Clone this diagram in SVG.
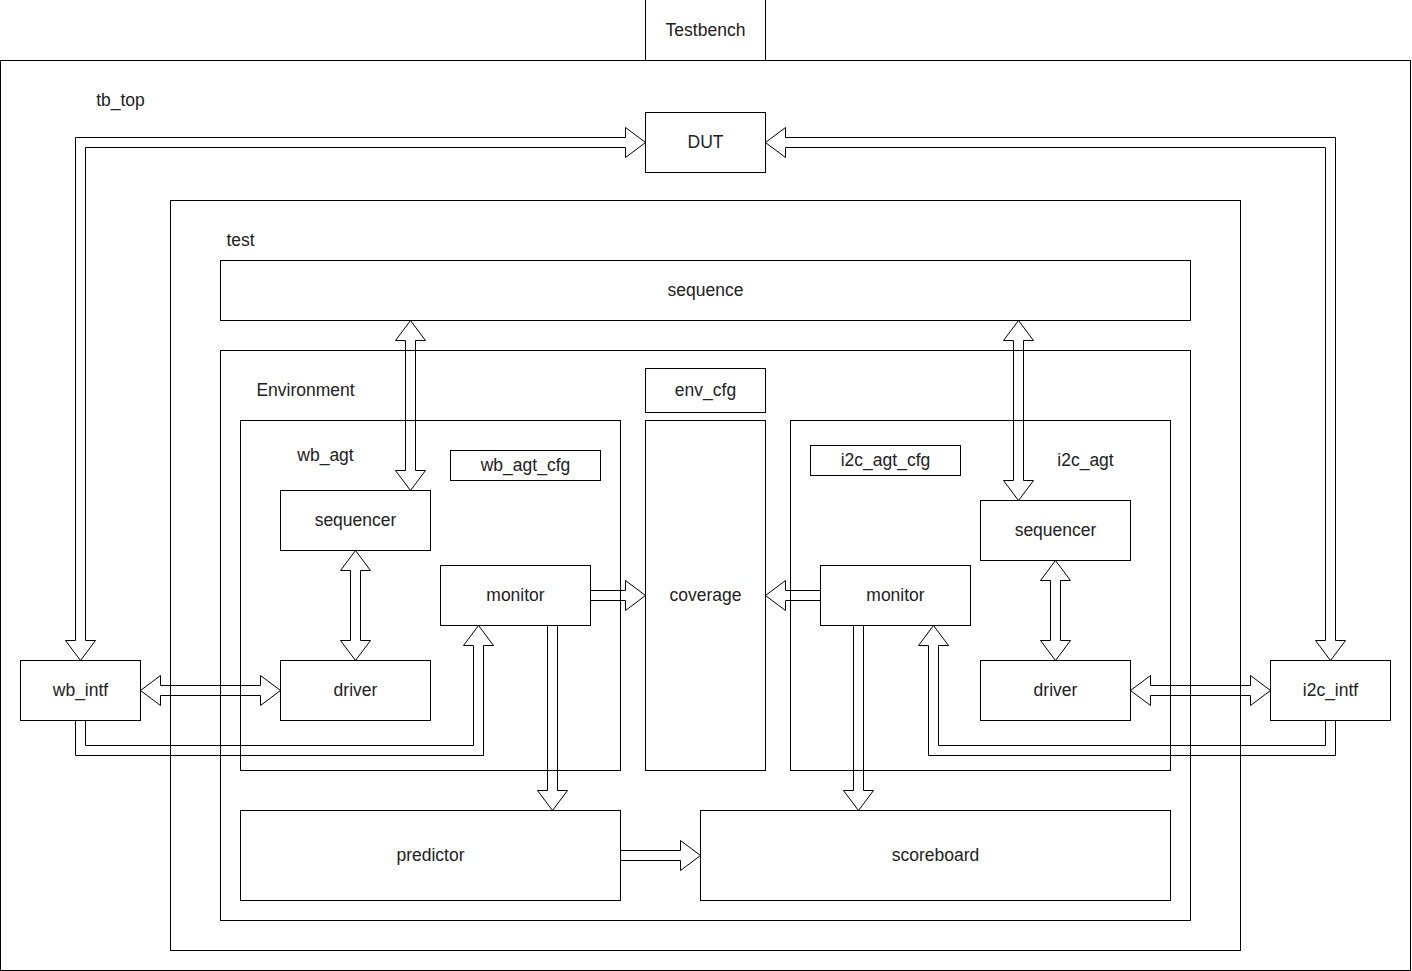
<svg xmlns="http://www.w3.org/2000/svg" width="1412" height="971" viewBox="0 0 1412 971">
  <style>
    .box { fill: none; stroke: #000; stroke-width: 1; }
    .lbl { font-family: "Liberation Sans", Arial, sans-serif; font-size: 17.5px; fill: #222; text-anchor: middle; }
    .flex { fill: none; stroke: #000; stroke-width: 1; stroke-linejoin: miter; }
  </style>
  <rect x="0" y="0" width="1412" height="971" fill="#fff"/>
  <g transform="translate(0.5,0.5)">
    <!-- outer frame and containers -->
    <g id="testbench"><rect class="box" x="645" y="-10" width="120" height="70"/><text class="lbl" x="705" y="35.5">Testbench</text></g>
    <g id="tb_top"><rect class="box" x="0" y="60" width="1410" height="910"/><text class="lbl" x="120" y="105.5">tb_top</text></g>
    <g id="dut"><rect class="box" x="645" y="112" width="120" height="60"/><text class="lbl" x="705" y="147.5">DUT</text></g>
    <g id="test"><rect class="box" x="170" y="200" width="1070" height="750"/><text class="lbl" x="240" y="245.5">test</text></g>
    <g id="sequence"><rect class="box" x="220" y="260" width="970" height="60"/><text class="lbl" x="705" y="295.5">sequence</text></g>
    <g id="environment"><rect class="box" x="220" y="350" width="970" height="570"/><text class="lbl" x="305" y="395.5">Environment</text></g>
    <g id="env_cfg"><rect class="box" x="645" y="368" width="120" height="44"/><text class="lbl" x="705" y="395.5">env_cfg</text></g>
    <!-- wishbone agent -->
    <g id="wb_agt"><rect class="box" x="240" y="420" width="380" height="350"/><text class="lbl" x="325" y="460.5">wb_agt</text></g>
    <g id="wb_agt_cfg"><rect class="box" x="450" y="450" width="150" height="30"/><text class="lbl" x="525" y="470.5">wb_agt_cfg</text></g>
    <g id="wb_sequencer"><rect class="box" x="280" y="490" width="150" height="60"/><text class="lbl" x="355" y="525.5">sequencer</text></g>
    <g id="wb_monitor"><rect class="box" x="440" y="565" width="150" height="60"/><text class="lbl" x="515" y="600.5">monitor</text></g>
    <g id="wb_driver"><rect class="box" x="280" y="660" width="150" height="60"/><text class="lbl" x="355" y="695.5">driver</text></g>
    <g id="coverage"><rect class="box" x="645" y="420" width="120" height="350"/><text class="lbl" x="705" y="600.5">coverage</text></g>
    <!-- i2c agent -->
    <g id="i2c_agt"><rect class="box" x="790" y="420" width="380" height="350"/><text class="lbl" x="1085" y="465.5">i2c_agt</text></g>
    <g id="i2c_agt_cfg"><rect class="box" x="810" y="445" width="150" height="30"/><text class="lbl" x="885" y="465.5">i2c_agt_cfg</text></g>
    <g id="i2c_sequencer"><rect class="box" x="980" y="500" width="150" height="60"/><text class="lbl" x="1055" y="535.5">sequencer</text></g>
    <g id="i2c_monitor"><rect class="box" x="820" y="565" width="150" height="60"/><text class="lbl" x="895" y="600.5">monitor</text></g>
    <g id="i2c_driver"><rect class="box" x="980" y="660" width="150" height="60"/><text class="lbl" x="1055" y="695.5">driver</text></g>
    <!-- interfaces -->
    <g id="wb_intf"><rect class="box" x="20" y="660" width="120" height="60"/><text class="lbl" x="80" y="695.5">wb_intf</text></g>
    <g id="i2c_intf"><rect class="box" x="1270" y="660" width="120" height="60"/><text class="lbl" x="1330" y="695.5">i2c_intf</text></g>
    <!-- checking -->
    <g id="predictor"><rect class="box" x="240" y="810" width="380" height="90"/><text class="lbl" x="430" y="860.5">predictor</text></g>
    <g id="scoreboard"><rect class="box" x="700" y="810" width="470" height="90"/><text class="lbl" x="935" y="860.5">scoreboard</text></g>

    <!-- wide hollow arrows -->
    <g id="connectors">
      <polygon class="flex" points="80,660 95,640 85,640 85,147 625,147 625,157 645,142 625,127 625,137 75,137 75,640 65,640"/>
      <polygon class="flex" points="1330,660 1315,640 1325,640 1325,147 785,147 785,157 765,142 785,127 785,137 1335,137 1335,640 1345,640"/>
      <polyline class="flex" points="85,720 85,745 473,745 473,645 463,645 478,625 493,645 483,645 483,755 75,755 75,720"/>
      <polyline class="flex" points="1325,720 1325,745 938,745 938,645 948,645 933,625 918,645 928,645 928,755 1335,755 1335,720"/>
      <polygon class="flex" points="140,690 160,675 160,685 260,685 260,675 280,690 260,705 260,695 160,695 160,705"/>
      <polygon class="flex" points="1130,690 1150,675 1150,685 1250,685 1250,675 1270,690 1250,705 1250,695 1150,695 1150,705"/>
      <polygon class="flex" points="410,320 425,340 415,340 415,470 425,470 410,490 395,470 405,470 405,340 395,340"/>
      <polygon class="flex" points="1018,320 1033,340 1023,340 1023,480 1033,480 1018,500 1003,480 1013,480 1013,340 1003,340"/>
      <polygon class="flex" points="355,550 370,570 360,570 360,640 370,640 355,660 340,640 350,640 350,570 340,570"/>
      <polygon class="flex" points="1055,560 1070,580 1060,580 1060,640 1070,640 1055,660 1040,640 1050,640 1050,580 1040,580"/>
      <polyline class="flex" points="590,590 625,590 625,580 645,595 625,610 625,600 590,600"/>
      <polyline class="flex" points="820,590 785,590 785,580 765,595 785,610 785,600 820,600"/>
      <polyline class="flex" points="547,625 547,790 537,790 552,810 567,790 557,790 557,625"/>
      <polyline class="flex" points="853,625 853,790 843,790 858,810 873,790 863,790 863,625"/>
      <polyline class="flex" points="620,850 680,850 680,840 700,855 680,870 680,860 620,860"/>
    </g>
  </g>
</svg>
